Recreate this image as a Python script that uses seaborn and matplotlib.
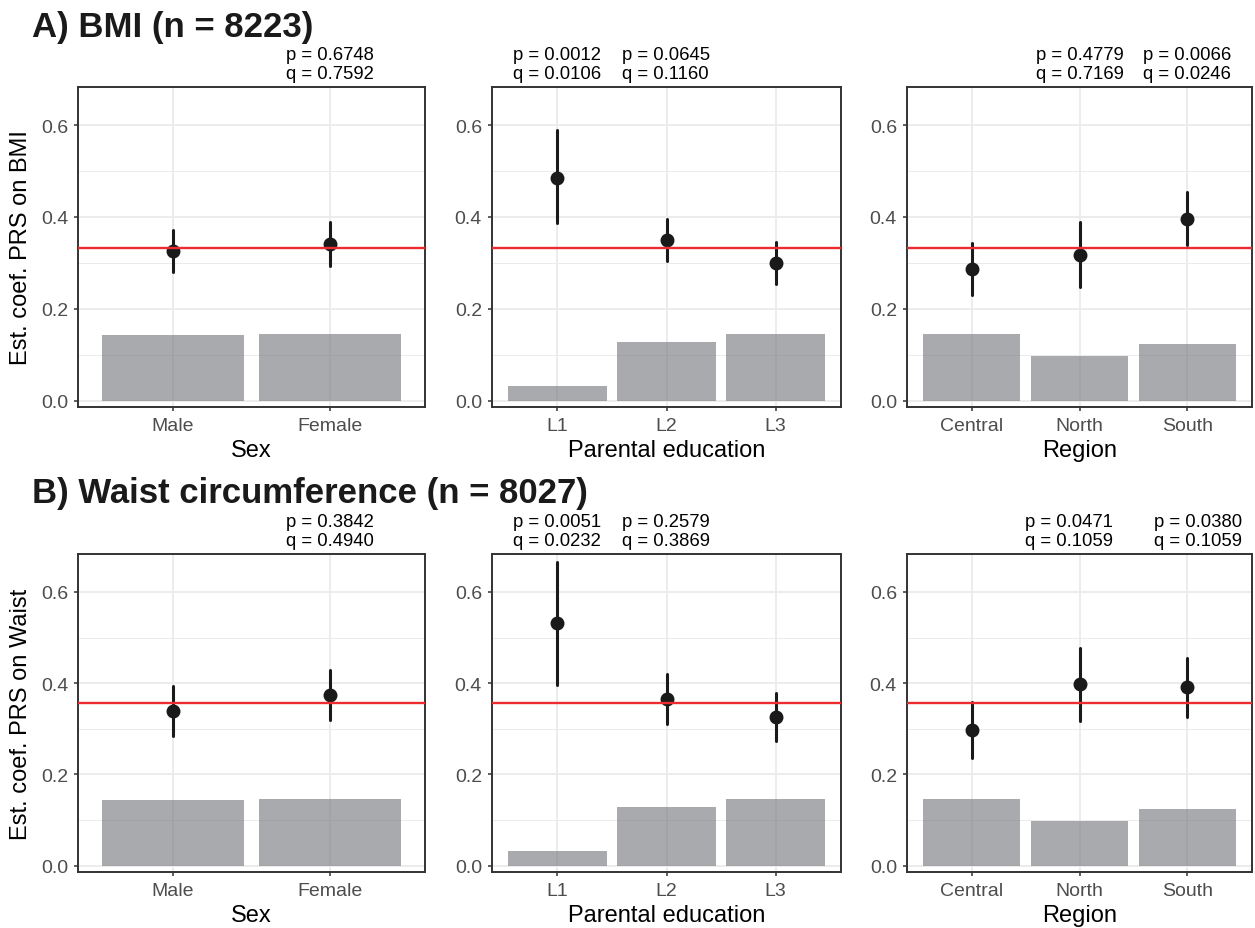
import numpy as np
import pandas as pd
import matplotlib
matplotlib.use("Agg")
import matplotlib.pyplot as plt
import matplotlib.transforms as mtransforms
from matplotlib.ticker import FixedLocator
import seaborn as sns

# ---------------- data ----------------
cats_sex = ["Male", "Female"]
cats_edu = ["L1", "L2", "L3"]
cats_reg = ["Central", "North", "South"]

# A) BMI
bmi_ref = 0.333
bmi_sex_est = [0.326, 0.341]
bmi_sex_lo = [0.281, 0.294]
bmi_sex_hi = [0.372, 0.390]
bmi_sex_bar = [0.143, 0.145]

bmi_edu_est = [0.485, 0.350, 0.300]
bmi_edu_lo = [0.386, 0.305, 0.255]
bmi_edu_hi = [0.590, 0.395, 0.346]
bmi_edu_bar = [0.033, 0.128, 0.145]

bmi_reg_est = [0.287, 0.318, 0.396]
bmi_reg_lo = [0.231, 0.248, 0.338]
bmi_reg_hi = [0.343, 0.389, 0.454]
bmi_reg_bar = [0.145, 0.098, 0.124]

# B) Waist
waist_ref = 0.357
waist_sex_est = [0.340, 0.374]
waist_sex_lo = [0.285, 0.319]
waist_sex_hi = [0.394, 0.429]
waist_sex_bar = [0.144, 0.146]

waist_edu_est = [0.531, 0.366, 0.326]
waist_edu_lo = [0.395, 0.310, 0.274]
waist_edu_hi = [0.666, 0.419, 0.379]
waist_edu_bar = [0.033, 0.129, 0.146]

waist_reg_est = [0.297, 0.398, 0.392]
waist_reg_lo = [0.236, 0.317, 0.326]
waist_reg_hi = [0.359, 0.476, 0.455]
waist_reg_bar = [0.146, 0.097, 0.125]

# p / q annotations: (category, p, q)
bmi_sex_ann = [("Female", "0.6748", "0.7592")]
bmi_edu_ann = [("L1", "0.0012", "0.0106"), ("L2", "0.0645", "0.1160")]
bmi_reg_ann = [("North", "0.4779", "0.7169"), ("South", "0.0066", "0.0246")]
waist_sex_ann = [("Female", "0.3842", "0.4940")]
waist_edu_ann = [("L1", "0.0051", "0.0232"), ("L2", "0.2579", "0.3869")]
waist_reg_ann = [("North", "0.0471", "0.1059"), ("South", "0.0380", "0.1059")]

y_ticks = [0.0, 0.2, 0.4, 0.6]
y_tick_labels = ["0.0", "0.2", "0.4", "0.6"]
y_minor = [0.1, 0.3, 0.5]

titles = ["A) BMI (n = 8223)", "B) Waist circumference (n = 8027)"]
ylabels = ["Est. coef. PRS on BMI", "Est. coef. PRS on Waist"]
xlabels = ["Sex", "Parental education", "Region"]

# ---------------- style ----------------
sns.set_theme(style="white")
plt.rcParams["font.family"] = ["Liberation Sans", "DejaVu Sans"]

W, H = 1255, 929
fig = plt.figure(figsize=(W / 100, H / 100), dpi=100)
fig.patch.set_facecolor("white")

col_px = [(78, 425), (492, 841), (907, 1252)]
row_px = [(88, 408), (555, 873)]

rows = [
    dict(ref=bmi_ref, panels=[
        (cats_sex, bmi_sex_est, bmi_sex_lo, bmi_sex_hi, bmi_sex_bar, bmi_sex_ann, [0.0]),
        (cats_edu, bmi_edu_est, bmi_edu_lo, bmi_edu_hi, bmi_edu_bar, bmi_edu_ann, [0.0, 0.0]),
        (cats_reg, bmi_reg_est, bmi_reg_lo, bmi_reg_hi, bmi_reg_bar, bmi_reg_ann, [0.0, 0.0]),
    ]),
    dict(ref=waist_ref, panels=[
        (cats_sex, waist_sex_est, waist_sex_lo, waist_sex_hi, waist_sex_bar, waist_sex_ann, [0.0]),
        (cats_edu, waist_edu_est, waist_edu_lo, waist_edu_hi, waist_edu_bar, waist_edu_ann, [0.0, 0.0]),
        (cats_reg, waist_reg_est, waist_reg_lo, waist_reg_hi, waist_reg_bar, waist_reg_ann, [-0.1, 0.1]),
    ]),
]

BAR_COLOR = "#7B7D82"
PT_COLOR = "#1A1A1A"
RED = "#EE2B2F"
GRID = "#EBEBEB"
BORDER = "#333333"
TICKC = "#4D4D4D"

for r, row in enumerate(rows):
    top, bot = row_px[r]
    for c, (cats, est, lo, hi, bar, ann, nudges) in enumerate(row["panels"]):
        left, right = col_px[c]
        ax = fig.add_axes([left / W, 1 - bot / H, (right - left) / W, (bot - top) / H])
        ax.set_facecolor("white")

        bar_df = pd.DataFrame({"cat": cats, "val": bar})
        sns.barplot(data=bar_df, x="cat", y="val", order=cats, color=BAR_COLOR,
                    alpha=0.65, width=0.9, saturation=1, linewidth=0, ax=ax, zorder=2)

        long = pd.DataFrame({
            "cat": list(cats) * 3,
            "val": list(lo) + list(est) + list(hi),
        })
        sns.pointplot(data=long, x="cat", y="val", order=cats, estimator="median",
                      errorbar=("pi", 100), color=PT_COLOR, linestyle="none",
                      markers="o", markersize=8, capsize=0,
                      err_kws={"linewidth": 2.2, "color": PT_COLOR}, ax=ax, zorder=3)

        ax.axhline(row["ref"], color=RED, lw=1.7, zorder=4)

        n = len(cats)
        ax.set_xlim(-0.6, n - 1 + 0.6)
        ax.set_ylim(-0.0137, 0.683)

        ax.yaxis.set_major_locator(FixedLocator(y_ticks))
        ax.set_yticklabels(y_tick_labels)
        ax.yaxis.set_minor_locator(FixedLocator(y_minor))
        ax.set_axisbelow(True)
        ax.grid(True, which="major", axis="both", color=GRID, lw=1.3, zorder=0)
        ax.grid(True, which="minor", axis="y", color=GRID, lw=0.7, zorder=0)

        ax.tick_params(axis="both", which="major", direction="out", length=3.2,
                       width=1.1, color=BORDER, labelcolor=TICKC, labelsize=14,
                       pad=4, left=True, bottom=True)
        ax.tick_params(axis="y", which="minor", length=0)
        for s in ax.spines.values():
            s.set_visible(True)
            s.set_color(BORDER)
            s.set_linewidth(1.4)

        ax.set_xlabel(xlabels[c], fontsize=17, color="black", labelpad=3.5)
        if c == 0:
            ax.set_ylabel(ylabels[r], fontsize=17, color="black", labelpad=6)
        else:
            ax.set_ylabel("")

        trans = mtransforms.blended_transform_factory(ax.transData, ax.transAxes)
        for (cat, p, q), nd in zip(ann, nudges):
            xi = cats.index(cat) + nd
            ax.text(xi, 1.016, f"p = {p}\nq = {q}", transform=trans, ha="center",
                    va="bottom", multialignment="left", fontsize=13.3, color="black",
                    linespacing=1.18, clip_on=False)

    fig.text(32 / W, 1 - (37 if r == 0 else 503) / H, titles[r], fontsize=25,
             fontweight="bold", color="#1A1A1A", ha="left", va="baseline")

fig.savefig("out.png", dpi=100, facecolor="white")
